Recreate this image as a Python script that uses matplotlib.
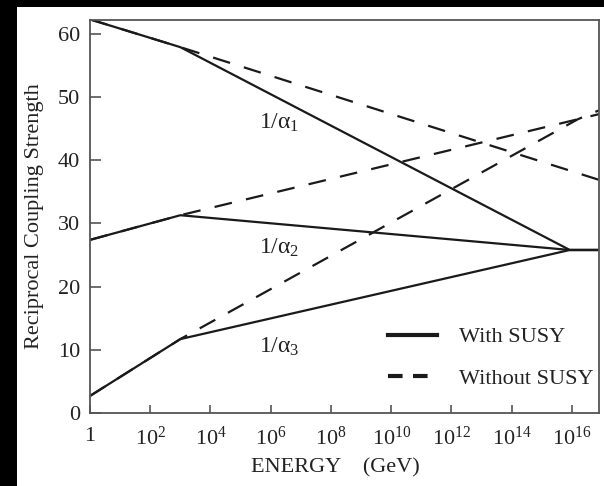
import matplotlib
matplotlib.use("Agg")
import matplotlib.pyplot as plt
from matplotlib.patches import Rectangle
from matplotlib.lines import Line2D
import numpy as np

plt.rcParams.update({
    "font.family": "Liberation Serif",
    "mathtext.fontset": "custom",
    "mathtext.rm": "Liberation Serif",
    "mathtext.it": "Liberation Serif:italic",
    "mathtext.bf": "Liberation Serif:bold",
})

INK = "#222222"
SPINE = "#555555"

# log10(E / GeV) breakpoints and reciprocal couplings
# with SUSY (solid): SM running to ~1 TeV, then MSSM running to unification
susy_logE = [0, 3.0, 15.93, 16.9]
susy_a1 = [62.3, 57.9, 25.8, 25.8]
susy_a2 = [27.4, 31.3, 25.8, 25.8]
susy_a3 = [2.7, 11.7, 25.8, 25.8]

# without SUSY (dashed)
nosusy_a1_logE = [0, 3.0, 16.9]
nosusy_a1 = [62.3, 57.9, 36.9]
nosusy_a2_logE = [0, 3.0, 16.9]
nosusy_a2 = [27.4, 31.3, 47.3]
nosusy_a3_logE = [0, 3.0, 16.2, 16.9]
nosusy_a3 = [2.7, 11.7, 46.5, 47.9]

xtick_exp = [0, 2, 4, 6, 8, 10, 12, 14, 16]
xtick_labels = ["1"] + [rf"$\mathrm{{10^{{{e}}}}}$" for e in xtick_exp[1:]]
yticks = [0, 10, 20, 30, 40, 50, 60]

fig = plt.figure(figsize=(6.04, 4.86), dpi=100)
fig.patch.set_facecolor("black")
fig.add_artist(Rectangle((17 / 604, 0), 1, 1 - 7 / 486, transform=fig.transFigure,
                         facecolor="white", edgecolor="none", zorder=-10))

ax = fig.add_axes([90 / 604, 73 / 486, 509 / 604, 393 / 486])
ax.set_facecolor("white")

def E(logs):
    return 10 ** np.asarray(logs, dtype=float)

lw = 1.6
for ys in (susy_a1, susy_a2, susy_a3):
    ax.plot(E(susy_logE), ys, color="#1a1a1a", lw=lw, solid_capstyle="butt")

dash = (0, (8, 6.5))
ax.plot(E(nosusy_a1_logE), nosusy_a1, color="#1a1a1a", lw=lw, linestyle=dash)
ax.plot(E(nosusy_a2_logE), nosusy_a2, color="#1a1a1a", lw=lw, linestyle=dash)
ax.plot(E(nosusy_a3_logE), nosusy_a3, color="#1a1a1a", lw=lw, linestyle=dash)

ax.set_xscale("log")
ax.set_xlim(1, 10 ** 16.9)
ax.set_ylim(0, 62.2)
ax.set_xticks(E(xtick_exp))
ax.set_xticklabels(xtick_labels)
ax.xaxis.set_minor_locator(matplotlib.ticker.NullLocator())
ax.set_yticks(yticks)

ax.tick_params(axis="y", direction="in", length=8, width=1.2, color=SPINE,
               labelsize=16, labelcolor=INK, pad=7)
ax.tick_params(axis="x", direction="in", length=6, width=1.2, color=SPINE,
               labelsize=16, labelcolor=INK, pad=10)
for s in ax.spines.values():
    s.set_color(SPINE)
    s.set_linewidth(1.3)

ax.set_ylabel("Reciprocal Coupling Strength", fontsize=16, color=INK, labelpad=10)
ax.set_xlabel("ENERGY    (GeV)", fontsize=16, color=INK)
ax.xaxis.set_label_coords(0.483, -0.115)

lab_x = 10 ** 5.6
ax.text(lab_x, 45.9, r"$\mathrm{1/\alpha_1}$", fontsize=17, color=INK, va="center")
ax.text(lab_x, 26.1, r"$\mathrm{1/\alpha_2}$", fontsize=17, color=INK, va="center")
ax.text(lab_x, 10.4, r"$\mathrm{1/\alpha_3}$", fontsize=17, color=INK, va="center")

handles = [Line2D([], [], color="#1a1a1a", lw=3),
           Line2D([], [], color="#1a1a1a", lw=3, linestyle=(0, (3.5, 2.5)))]
ax.legend(handles, ["With SUSY", "Without SUSY"], loc="lower right",
          bbox_to_anchor=(1.016, 0.027), borderaxespad=0.2, frameon=False, fontsize=16,
          handlelength=2.2, handletextpad=1.0, labelspacing=0.95, labelcolor=INK)

fig.savefig("out.png", dpi=100, facecolor=fig.get_facecolor())
